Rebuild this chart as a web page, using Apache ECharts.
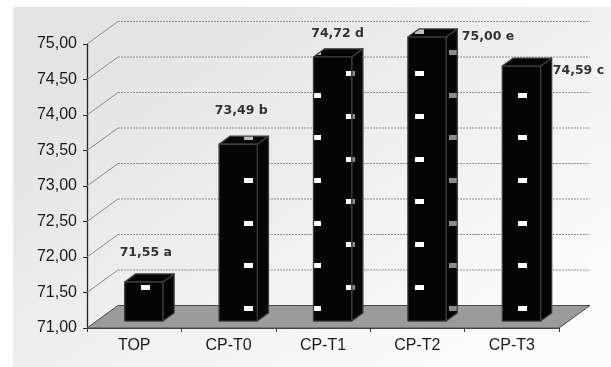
<!DOCTYPE html>
<html>
<head>
<meta charset="utf-8">
<script src="https://cdn.jsdelivr.net/npm/echarts@6/dist/echarts.min.js"></script>
<style>
  html, body { margin: 0; padding: 0; background: #ffffff; }
  #chart { width: 611px; height: 367px; }
</style>
</head>
<body>
<div id="chart"></div>
<script>
// Data
const categories = ['TOP', 'CP-T0', 'CP-T1', 'CP-T2', 'CP-T3'];
const values = [71.55, 73.49, 74.72, 75.00, 74.59];
const letters = ['a', 'b', 'd', 'e', 'c'];
const yTicks = [71, 71.5, 72, 72.5, 73, 73.5, 74, 74.5, 75];

// Oblique 3D layout
const DEPTH = [31, -22.5];          // offset from the front plane to the back wall
const BAR_FRONT = 0.31;             // depth fraction where the bar front faces sit
const BAR_BACK = 0.67;              // depth fraction where the bar back faces sit
const BAR_WIDTH = 0.405;            // share of each category band
const LABEL_SHIFT = [[2, -29], [3, -33], [5, -23], [61, 0], [57, 5]];

const fmt = v => v.toFixed(2).replace('.', ',');

// Dark fill with small dashes, laid out on a page-anchored lattice
function makePattern(markColor) {
  const W = 137, H = 128, px = 68.5, py = 128 / 3;
  const c = document.createElement('canvas');
  c.width = W; c.height = H;
  const g = c.getContext('2d');
  g.fillStyle = '#050505';
  g.fillRect(0, 0, W, H);
  g.fillStyle = markColor;
  const ax = 316.7 % W, ay = 95.3 % H;
  const dash = (cx, cy) => g.fillRect(Math.round(cx - 4.5), Math.round(cy - 2.5), 9, 5);
  for (let i = -2; i <= 3; i++) {
    for (let j = -2; j <= 4; j++) {
      const x = ax + i * px, y = ay + j * py;
      dash(x, y);
      dash(x + px / 2, y - py / 2);
    }
  }
  return { image: c, repeat: 'repeat' };
}
const frontFill = makePattern('#ffffff');
const sideFill = makePattern('#8c8c8c');
const topFill = makePattern('#bdbdbd');

const chart = echarts.init(document.getElementById('chart'), null, { renderer: 'canvas' });

const yMin = yTicks[0];
const yMax = yTicks[yTicks.length - 1];

function renderFrame(params, api) {
  const cs = params.coordSys;
  const tick = api.value(1);
  const y = api.coord([0, tick])[1];
  const x0 = cs.x, x1 = cs.x + cs.width;
  const [dx, dy] = DEPTH;
  const children = [];
  if (tick === yMin) {
    children.push({
      type: 'polygon',
      shape: { points: [[x0, y], [x1, y], [x1 + dx, y + dy], [x0 + dx, y + dy]] },
      style: { fill: '#9b9b9b', stroke: '#4a4a4a', lineWidth: 1 }
    });
  } else {
    children.push({
      type: 'line',
      shape: { x1: x0 + dx, y1: y + dy, x2: x1 + dx, y2: y + dy },
      style: { stroke: '#8f8f8f', lineWidth: 1, lineDash: [2, 1] }
    });
    children.push({
      type: 'line',
      shape: { x1: x0, y1: y, x2: x0 + dx, y2: y + dy },
      style: { stroke: '#8a8a8a', lineWidth: 1 }
    });
  }
  return { type: 'group', children };
}

function renderBar(params, api) {
  const i = params.dataIndex;
  const v = api.value(1);
  const base = api.coord([i, yMin]);
  const top = api.coord([i, v]);
  const band = api.size([1, 0])[0];
  const hw = band * BAR_WIDTH / 2;
  const fx = DEPTH[0] * BAR_FRONT, fy = DEPTH[1] * BAR_FRONT;
  const bx = DEPTH[0] * BAR_BACK, by = DEPTH[1] * BAR_BACK;
  const L = base[0] - hw, R = base[0] + hw;
  const tY = top[1], bY = base[1];
  const edge = { stroke: '#3c3c3c', lineWidth: 1.3, lineJoin: 'round' };
  return {
    type: 'group',
    children: [
      { type: 'polygon',
        shape: { points: [[R + fx, tY + fy], [R + bx, tY + by], [R + bx, bY + by], [R + fx, bY + fy]] },
        style: Object.assign({ fill: sideFill }, edge) },
      { type: 'polygon',
        shape: { points: [[L + fx, tY + fy], [L + bx, tY + by], [R + bx, tY + by], [R + fx, tY + fy]] },
        style: Object.assign({ fill: topFill }, edge) },
      { type: 'polygon',
        shape: { points: [[L + fx, tY + fy], [R + fx, tY + fy], [R + fx, bY + fy], [L + fx, bY + fy]] },
        style: Object.assign({ fill: frontFill }, edge) },
      { type: 'text',
        x: base[0] + fx + LABEL_SHIFT[i][0],
        y: tY + fy + LABEL_SHIFT[i][1],
        style: {
          text: fmt(v) + ' ' + letters[i],
          fill: '#333333',
          font: 'bold 12.5px "DejaVu Sans"',
          align: 'center',
          verticalAlign: 'middle'
        } }
    ]
  };
}

const option = {
  animation: false,
  backgroundColor: '#ffffff',
  graphic: [{
    type: 'rect',
    z: -10,
    silent: true,
    shape: { x: 13, y: 7, width: 598, height: 360 },
    style: {
      fill: new echarts.graphic.LinearGradient(0.3, 0, 0.7, 1, [
        { offset: 0, color: '#e4e4e4' },
        { offset: 0.55, color: '#f0f0f0' },
        { offset: 1, color: '#fbfbfb' }
      ])
    }
  }],
  grid: { left: 87, top: 44, width: 472, height: 284 },
  xAxis: {
    type: 'category',
    data: categories,
    axisLine: { show: true, lineStyle: { color: '#3a3a3a', width: 1 } },
    axisTick: { show: true, length: 4, lineStyle: { color: '#3a3a3a' } },
    axisLabel: {
      color: '#1a1a1a', fontFamily: 'Liberation Sans', fontSize: 16, margin: 10
    },
    splitLine: { show: false }
  },
  yAxis: {
    type: 'value',
    min: yMin,
    max: yMax,
    interval: yTicks[1] - yTicks[0],
    axisLine: { show: true, lineStyle: { color: '#222222', width: 1.3 } },
    axisTick: { show: true, length: 4, lineStyle: { color: '#222222' } },
    axisLabel: {
      color: '#1a1a1a', fontFamily: 'Liberation Sans', fontSize: 16, margin: 10,
      formatter: v => fmt(v)
    },
    splitLine: { show: false }
  },
  series: [
    {
      type: 'custom',
      clip: false,
      silent: true,
      z: 1,
      renderItem: renderFrame,
      data: yTicks.map(t => [0, t])
    },
    {
      type: 'custom',
      clip: false,
      silent: true,
      z: 3,
      renderItem: renderBar,
      data: values.map((v, i) => [i, v])
    }
  ]
};

chart.setOption(option);
</script>
</body>
</html>
